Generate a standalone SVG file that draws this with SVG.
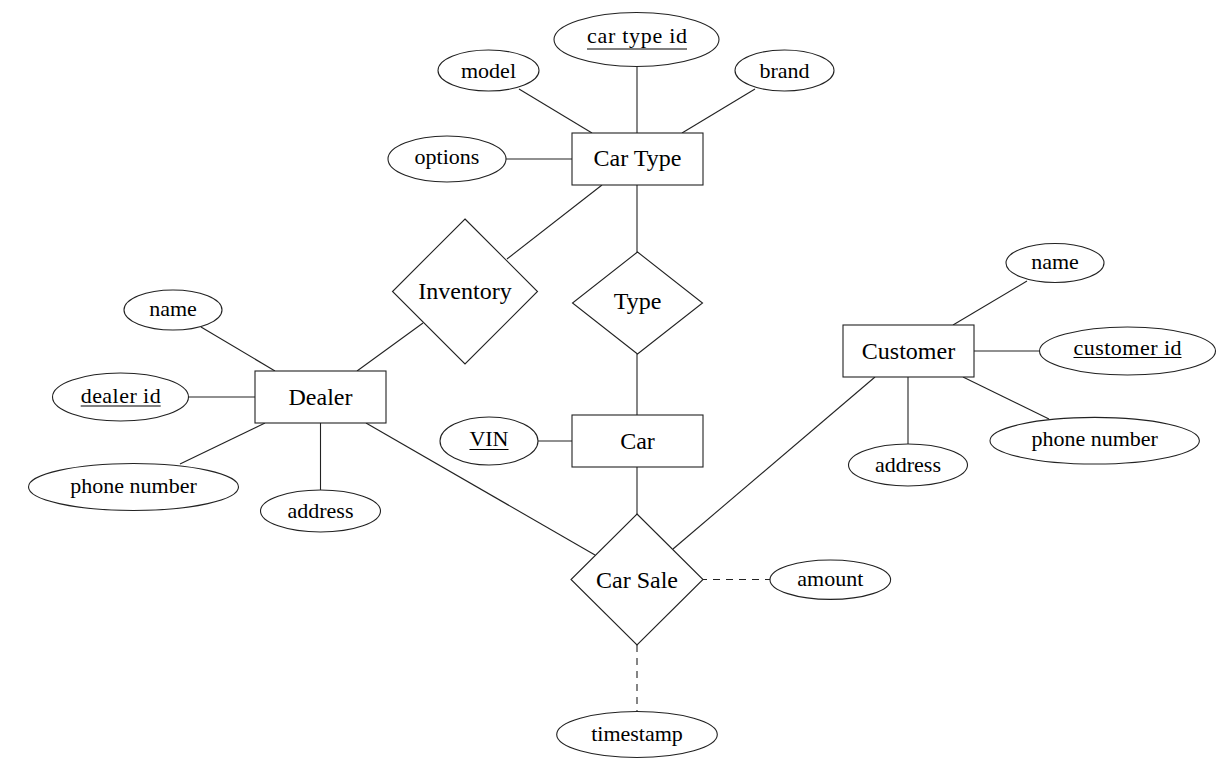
<svg xmlns="http://www.w3.org/2000/svg" width="1224" height="767" viewBox="0 0 1224 767">
<style>
.sh{fill:#fff;stroke:#222;stroke-width:1.1}
.ln{stroke:#222;stroke-width:1.1;fill:none}
.dash{stroke:#222;stroke-width:1.1;stroke-dasharray:7,6;fill:none}
.ul{stroke:#000;stroke-width:1.1}
.a{font-family:"Liberation Serif","Times New Roman",serif;font-size:22px;fill:#000;text-anchor:middle}
.e{font-family:"Liberation Serif","Times New Roman",serif;font-size:24px;fill:#000;text-anchor:middle}
</style>
<rect width="1224" height="767" fill="#fff"/>
<g id="connectors">
<line class="ln" x1="519" y1="89" x2="592" y2="133"/>
<line class="ln" x1="637" y1="66" x2="637" y2="133"/>
<line class="ln" x1="755" y1="89" x2="682" y2="133"/>
<line class="ln" x1="506" y1="159" x2="572" y2="159"/>
<line class="ln" x1="637" y1="185" x2="637" y2="252"/>
<line class="ln" x1="602" y1="185" x2="507" y2="259"/>
<line class="ln" x1="423" y1="323" x2="357" y2="371"/>
<line class="ln" x1="637" y1="354" x2="637" y2="415"/>
<line class="ln" x1="538" y1="441" x2="572" y2="441"/>
<line class="ln" x1="637" y1="467" x2="637" y2="514"/>
<line class="ln" x1="201" y1="327" x2="275" y2="371"/>
<line class="ln" x1="188" y1="397" x2="255" y2="397"/>
<line class="ln" x1="180" y1="464" x2="265" y2="423"/>
<line class="ln" x1="320.5" y1="423" x2="320.5" y2="490"/>
<line class="ln" x1="366" y1="423" x2="595" y2="555"/>
<line class="ln" x1="875" y1="377" x2="673" y2="549"/>
<line class="ln" x1="1027" y1="281" x2="953" y2="325"/>
<line class="ln" x1="974" y1="351" x2="1039" y2="351"/>
<line class="ln" x1="963" y1="377" x2="1049" y2="419"/>
<line class="ln" x1="908" y1="377" x2="908" y2="444"/>
<line class="dash" x1="703" y1="579.5" x2="770" y2="579.5" stroke-dashoffset="3"/>
<line class="dash" x1="637" y1="645" x2="637" y2="712"/>
</g>
<g id="car-type">
<rect class="sh" x="572" y="133" width="131" height="52"/>
<text class="e" x="637.5" y="166">Car Type</text>
</g>
<g id="car-type-id">
<ellipse class="sh" cx="636.5" cy="39.5" rx="82.5" ry="27"/>
<text class="a" x="637" y="42.5" textLength="100" lengthAdjust="spacing">car type id</text>
<line class="ul" x1="587" y1="49" x2="687" y2="49"/>
</g>
<g id="model">
<ellipse class="sh" cx="488.5" cy="70.5" rx="50.5" ry="20.5"/>
<text class="a" x="488.5" y="78">model</text>
</g>
<g id="brand">
<ellipse class="sh" cx="784.5" cy="70.5" rx="49.5" ry="20.5"/>
<text class="a" x="784.5" y="78">brand</text>
</g>
<g id="options">
<ellipse class="sh" cx="447" cy="159" rx="59" ry="23"/>
<text class="a" x="447" y="164">options</text>
</g>
<g id="inventory">
<polygon class="sh" points="465,219 537.5,291.5 465,364 392.5,291.5"/>
<text class="e" x="465" y="298.5">Inventory</text>
</g>
<g id="type">
<polygon class="sh" points="637.5,252 702.5,303 637.5,354 572.5,303"/>
<text class="e" x="637.5" y="308.5">Type</text>
</g>
<g id="car">
<rect class="sh" x="572" y="415" width="131" height="52"/>
<text class="e" x="637.5" y="448.5">Car</text>
</g>
<g id="vin">
<ellipse class="sh" cx="489" cy="441" rx="49" ry="24"/>
<text class="a" x="489" y="446" textLength="39" lengthAdjust="spacing">VIN</text>
<line class="ul" x1="469.5" y1="449.5" x2="508.5" y2="449.5"/>
</g>
<g id="dealer">
<rect class="sh" x="255" y="371" width="131" height="52"/>
<text class="e" x="320.5" y="405">Dealer</text>
</g>
<g id="dealer-name">
<ellipse class="sh" cx="173" cy="310" rx="49" ry="20"/>
<text class="a" x="173" y="315.5">name</text>
</g>
<g id="dealer-id">
<ellipse class="sh" cx="120.5" cy="397" rx="68" ry="24"/>
<text class="a" x="120.7" y="402.5" textLength="80" lengthAdjust="spacing">dealer id</text>
<line class="ul" x1="80.7" y1="406" x2="160.7" y2="406"/>
</g>
<g id="dealer-phone">
<ellipse class="sh" cx="133.5" cy="487" rx="105" ry="23.5"/>
<text class="a" x="133.5" y="492.5">phone number</text>
</g>
<g id="dealer-address">
<ellipse class="sh" cx="320.5" cy="511" rx="60" ry="21"/>
<text class="a" x="320.5" y="518">address</text>
</g>
<g id="customer">
<rect class="sh" x="843" y="325" width="131" height="52"/>
<text class="e" x="908.5" y="359">Customer</text>
</g>
<g id="customer-name">
<ellipse class="sh" cx="1055" cy="263" rx="49" ry="19.5"/>
<text class="a" x="1055" y="268.5">name</text>
</g>
<g id="customer-id">
<ellipse class="sh" cx="1127.5" cy="351" rx="88" ry="24"/>
<text class="a" x="1127.5" y="355" textLength="108" lengthAdjust="spacing">customer id</text>
<line class="ul" x1="1073.5" y1="357.5" x2="1181.5" y2="357.5"/>
</g>
<g id="customer-phone">
<ellipse class="sh" cx="1094.7" cy="440.7" rx="104.7" ry="23.3"/>
<text class="a" x="1094.7" y="446">phone number</text>
</g>
<g id="customer-address">
<ellipse class="sh" cx="908" cy="465" rx="59.5" ry="21"/>
<text class="a" x="908" y="472">address</text>
</g>
<g id="car-sale">
<polygon class="sh" points="637,514 703,579.5 637,645 571,579.5"/>
<text class="e" x="637" y="588">Car Sale</text>
</g>
<g id="amount">
<ellipse class="sh" cx="830.3" cy="579.7" rx="60.3" ry="19.7"/>
<text class="a" x="830.3" y="586">amount</text>
</g>
<g id="timestamp">
<ellipse class="sh" cx="637" cy="734.5" rx="80.3" ry="23"/>
<text class="a" x="637" y="740.5">timestamp</text>
</g>
</svg>
